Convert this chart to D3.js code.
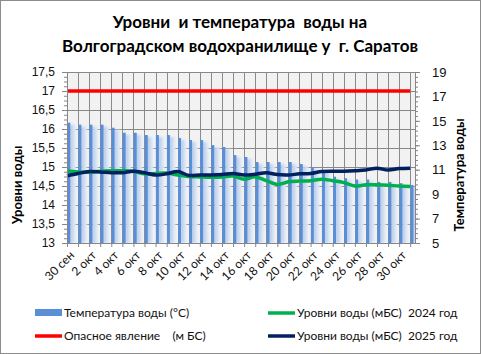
<!DOCTYPE html>
<html>
<head>
<meta charset="utf-8">
<script src="https://cdn.jsdelivr.net/npm/d3@7"></script>
<style>
  body { margin: 0; background: #fff; }
  svg { display: block; font-family: Lato, "Open Sans", sans-serif; }
  svg text { white-space: pre; }
</style>
</head>
<body>
<svg id="chart" width="481" height="354"></svg>
<script>
// dates 30 сен .. 31 окт
const dates = ['30 сен'].concat(d3.range(1, 32).map(d => d + ' окт'))
const tickLabels = dates.filter((d, i) => i % 2 === 0)

const waterTemp = [14.85, 14.69, 14.69, 14.69, 14.44, 14.03, 14.03, 13.84, 13.84, 13.84,
  13.6, 13.43, 13.43, 13.02, 12.86, 12.2, 12.04, 11.63, 11.63, 11.63,
  11.63, 11.47, 11.2, 10.98, 10.43, 10.3, 10.2, 10.2, 10.0, 10.0, 9.9, 9.75]

const level2024 = [14.90, 14.87, 14.86, 14.89, 14.90, 14.90, 14.89, 14.82, 14.83, 14.84,
  14.79, 14.75, 14.74, 14.73, 14.74, 14.76, 14.68, 14.74, 14.64, 14.54,
  14.61, 14.63, 14.64, 14.68, 14.64, 14.59, 14.50, 14.53, 14.53, 14.52, 14.50, 14.49]

const level2025 = [14.77, 14.83, 14.88, 14.87, 14.85, 14.85, 14.89, 14.85, 14.79, 14.82,
  14.88, 14.78, 14.79, 14.79, 14.80, 14.83, 14.79, 14.81, 14.85, 14.80,
  14.79, 14.82, 14.83, 14.88, 14.89, 14.89, 14.90, 14.92, 14.97, 14.92, 14.96, 14.97]

const dangerLevel = 17

const levelTicks = d3.range(13, 17.51, 0.5)
const tempTicks = d3.range(5, 19.1, 2)

const P = {left: 67, right: 415, top: 72, bottom: 243}
const lastX = 410.2

const svg = d3.select('#chart')
const comma = d => String(d).replace('.', ',')

// outer frame
svg.append('rect')
  .attr('x', 0.5).attr('y', 0.5)
  .attr('width', 480).attr('height', 353)
  .attr('fill', '#fff')
  .attr('stroke', '#8c8c8c')

// title
svg.append('text')
  .attr('x', 240).attr('y', 28)
  .attr('text-anchor', 'middle')
  .style('font-weight', 'bold').style('font-size', '17px')
  .text('Уровни  и температура  воды на')
svg.append('text')
  .attr('x', 240).attr('y', 52)
  .attr('text-anchor', 'middle')
  .style('font-weight', 'bold').style('font-size', '17px')
  .text('Волгоградском водохранилище у  г. Саратов')

let x = d3.scalePoint()
  .domain(dates)
  .range([P.left, lastX])

let yL = d3.scaleLinear()
  .domain([13, 17.5])
  .range([P.bottom, P.top])

let yR = d3.scaleLinear()
  .domain([5, 19])
  .range([P.bottom, P.top])

// plot background
svg.append('rect')
  .attr('x', P.left).attr('y', P.top)
  .attr('width', P.right - P.left).attr('height', P.bottom - P.top)
  .attr('fill', '#f2f2f2')

let defs = svg.append('defs')
defs.append('clipPath').attr('id', 'plotClip')
  .append('rect')
  .attr('x', P.left).attr('y', P.top - 5)
  .attr('width', P.right - P.left).attr('height', P.bottom - P.top + 5)

let grad = defs.append('linearGradient').attr('id', 'barGlow')
  .attr('x1', 0).attr('x2', 1).attr('y1', 0).attr('y2', 0)
grad.append('stop').attr('offset', '0%').attr('stop-color', '#a8c3ea')
grad.append('stop').attr('offset', '100%').attr('stop-color', '#eef1f6')

defs.append('filter').attr('id', 'blur')
  .attr('x', '-50%').attr('y', '-10%').attr('width', '200%').attr('height', '120%')
  .append('feGaussianBlur').attr('stdDeviation', 1.2)

// grid
let grid = svg.append('g')
grid.selectAll('.hg').data(levelTicks).join('line')
  .attr('x1', P.left).attr('x2', P.right)
  .attr('y1', d => Math.round(yL(d)) + 0.5).attr('y2', d => Math.round(yL(d)) + 0.5)
  .attr('stroke', '#888')
grid.selectAll('.vg').data(dates).join('line')
  .attr('x1', d => Math.round(x(d)) + 0.5).attr('x2', d => Math.round(x(d)) + 0.5)
  .attr('y1', P.top).attr('y2', P.bottom)
  .attr('stroke', '#8a8a8a')

// temperature bars
let bars = svg.append('g').attr('clip-path', 'url(#plotClip)')
bars.selectAll('.glow').data(waterTemp).join('rect')
  .attr('x', (d, i) => x(dates[i]) + 2.5)
  .attr('y', d => yR(d) + 2)
  .attr('width', 6.5)
  .attr('height', d => P.bottom - yR(d) - 2)
  .attr('fill', 'url(#barGlow)')
  .attr('filter', 'url(#blur)')
bars.selectAll('.bar').data(waterTemp).join('rect')
  .attr('x', (d, i) => x(dates[i]) + 0.3)
  .attr('y', d => yR(d))
  .attr('width', 3)
  .attr('height', d => P.bottom - yR(d))
  .attr('fill', '#5a8fd8')

// lines
let line = d3.line()
  .x((d, i) => x(dates[i]))
  .y(d => yL(d))
  .curve(d3.curveCatmullRom.alpha(0.5))

svg.append('path')
  .datum(dates.map(() => dangerLevel))
  .attr('d', d3.line().x((d, i) => x(dates[i])).y(d => yL(d)))
  .attr('fill', 'none').attr('stroke', '#ff0000').attr('stroke-width', 3.5)

svg.append('path')
  .datum(level2024)
  .attr('d', line)
  .attr('fill', 'none').attr('stroke', '#00b050').attr('stroke-width', 3.5)

svg.append('path')
  .datum(level2025)
  .attr('d', line)
  .attr('fill', 'none').attr('stroke', '#002060').attr('stroke-width', 3.5)

// axes
const axisColor = '#868686'
function styleAxis(g) {
  g.select('.domain').attr('stroke', axisColor)
  g.selectAll('.tick line').attr('stroke', axisColor)
  g.selectAll('.tick text').attr('fill', '#111').style('font-size', '12px')
}

// minor ticks
svg.append('g')
  .attr('transform', 'translate(' + P.left + ',0)')
  .call(d3.axisLeft(yL).tickValues(d3.range(13, 17.51, 0.125)).tickSize(3).tickFormat(''))
  .call(styleAxis)
svg.append('g')
  .attr('transform', 'translate(' + P.right + ',0)')
  .call(d3.axisRight(yR).tickValues(d3.range(5, 19.01, 0.4)).tickSize(3).tickFormat(''))
  .call(styleAxis)

svg.append('g')
  .attr('transform', 'translate(' + P.left + ',0)')
  .call(d3.axisLeft(yL).tickValues(levelTicks).tickSize(5).tickPadding(7).tickFormat(comma))
  .call(styleAxis)

svg.append('g')
  .attr('transform', 'translate(' + P.right + ',0)')
  .call(d3.axisRight(yR).tickValues(tempTicks).tickSize(5).tickPadding(12).tickFormat(d3.format('d')))
  .call(styleAxis)
  .selectAll('.tick text').style('font-size', '13px')

let xAxis = svg.append('g')
  .attr('transform', 'translate(0,' + P.bottom + ')')
  .call(d3.axisBottom(x).tickSize(4).tickFormat(''))
  .call(styleAxis)
xAxis.select('.domain').attr('d', 'M' + P.left + ',0.5H' + P.right)

svg.append('g').selectAll('text').data(tickLabels).join('text')
  .attr('transform', d => 'translate(' + (x(d) + 5) + ',' + (P.bottom + 10) + ') rotate(-45)')
  .attr('text-anchor', 'end')
  .attr('dy', '0.35em')
  .style('font-size', '12px')
  .attr('fill', '#111')
  .text(d => d)

// axis titles
svg.append('text')
  .attr('transform', 'translate(22,185) rotate(-90)')
  .attr('text-anchor', 'middle')
  .style('font-weight', 'bold').style('font-size', '13px')
  .text('Уровни воды')
svg.append('text')
  .attr('transform', 'translate(464,175) rotate(-90)')
  .attr('text-anchor', 'middle')
  .style('font-weight', 'bold').style('font-size', '13px')
  .text('Температура воды')

// legend
const legendItems = [
  {label: 'Температура воды (°С)', color: '#5a8fd8', type: 'rect', x: 35, y: 313},
  {label: 'Опасное явление    (м БС)', color: '#ff0000', type: 'line', x: 35, y: 336},
  {label: 'Уровни воды (мБС)  2024 год', color: '#00b050', type: 'line', x: 268, y: 313},
  {label: 'Уровни воды (мБС)  2025 год', color: '#002060', type: 'line', x: 268, y: 336}
]
let legend = svg.append('g')
legendItems.forEach(item => {
  if (item.type === 'rect') {
    legend.append('rect')
      .attr('x', item.x).attr('y', item.y - 4)
      .attr('width', 27).attr('height', 7)
      .attr('fill', item.color)
  } else {
    legend.append('line')
      .attr('x1', item.x).attr('x2', item.x + 27)
      .attr('y1', item.y).attr('y2', item.y)
      .attr('stroke', item.color).attr('stroke-width', 3.5)
  }
  legend.append('text')
    .attr('x', item.x + 29).attr('y', item.y + 4)
    .style('font-size', '12px')
    .attr('fill', '#111')
    .text(item.label)
})
</script>
</body>
</html>
